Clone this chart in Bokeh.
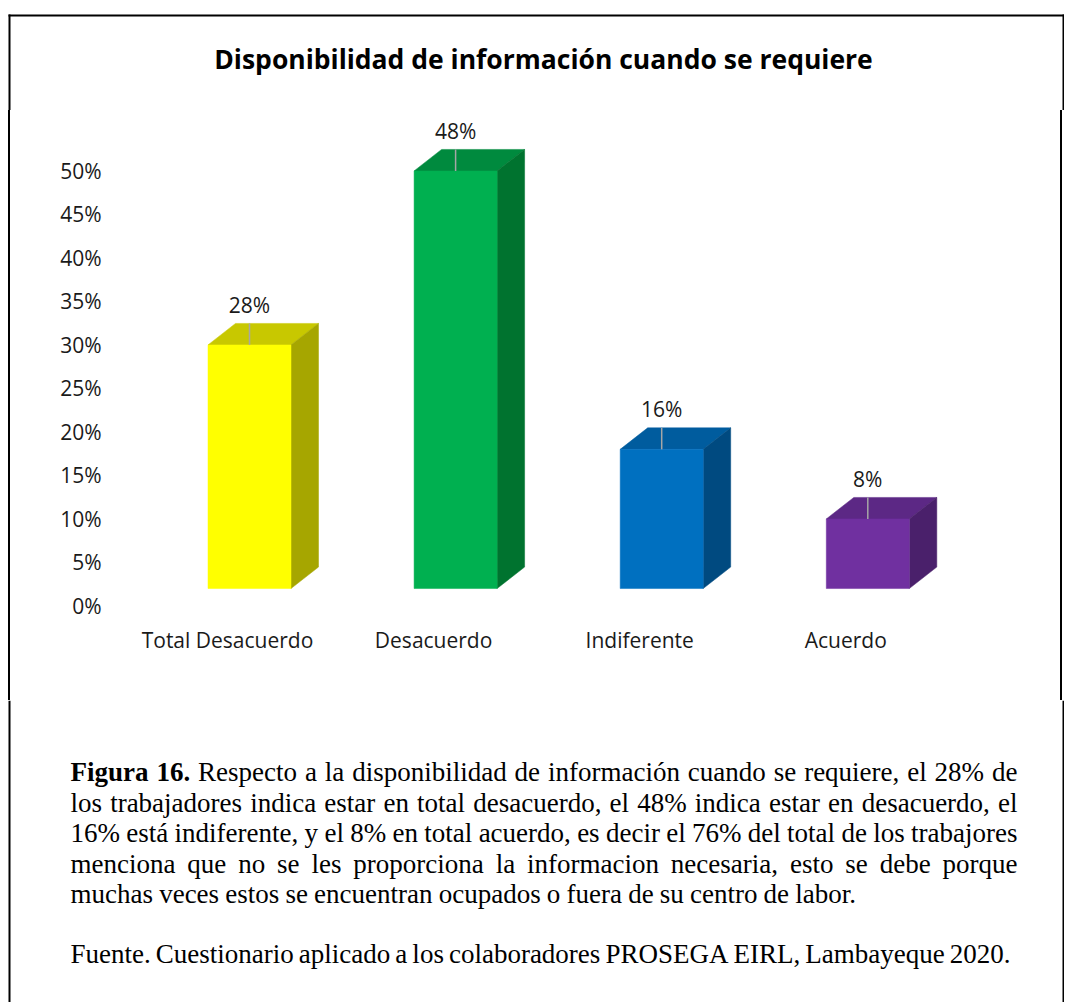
from bokeh.plotting import figure
from bokeh.layouts import column, row
from bokeh.models import Range1d, FixedTicker, PrintfTickFormatter, Spacer, Div
from bokeh.core.properties import value
from bokeh.embed import file_html
from bokeh.resources import INLINE

# ---------------- data ----------------
title_text = "Disponibilidad de información cuando se requiere"
categories = ["Total Desacuerdo", "Desacuerdo", "Indiferente", "Acuerdo"]
values = [28, 48, 16, 8]
value_labels = ["28%", "48%", "16%", "8%"]
y_ticks = [0, 5, 10, 15, 20, 25, 30, 35, 40, 45, 50]

front_colors = ["#FFFF00", "#00B050", "#0070C0", "#7030A0"]
top_colors = ["#C8C800", "#008A3E", "#005C9E", "#5C2885"]
side_colors = ["#A6A600", "#00732F", "#004A80", "#4A206B"]

caption_lines = [
    "Figura 16. Respecto a la disponibilidad de información cuando se requiere, el 28% de",
    "los trabajadores indica estar en total desacuerdo, el 48% indica estar en desacuerdo, el",
    "16% está indiferente, y el 8% en total acuerdo, es decir el 76% del total de los trabajores",
    "menciona que no se les proporciona la informacion necesaria, esto se debe porque",
    "muchas veces estos se encuentran ocupados o fuera de su centro de labor.",
]
source_line = "Fuente. Cuestionario aplicado a los colaboradores PROSEGA EIRL, Lambayeque 2020."

# ---------------- layout constants (page pixels) ----------------
TOTAL_W = 1064
HEAD_H = 110            # header (title) height
MID_H = 590             # chart block height
CAP_H = 302             # caption block height
LINE_W = 2
BORDER_TOP = (14, 16)
BORDER_LEFT = (8, 8 + LINE_W)
BORDER_RIGHT = (TOTAL_W - LINE_W, TOTAL_W)
CHART_X0 = BORDER_LEFT[1]
CHART_W = BORDER_RIGHT[0] - CHART_X0
FRAME_L, FRAME_R, FRAME_T, FRAME_B = 115, 1010, 110, 620   # page coords of chart frame

cat_px = 206.1          # pixels per category
pct_px = 8.7            # pixels per percent
first_cat_px = 227.0    # page x of first category centre
zero_px = 605.0         # page y of 0%

common = dict(output_backend="svg", toolbar_location=None)


def blank_fig(w, h, x0, x1, y0, y1, fill="white"):
    f = figure(width=w, height=h, x_range=Range1d(x0, x1), y_range=Range1d(y0, y1),
               x_axis_type=None, y_axis_type=None, min_border=0, **common)
    f.outline_line_color = None
    f.background_fill_color = fill
    f.border_fill_color = fill
    f.grid.visible = False
    return f


# ---------------- header: title + top border ----------------
head = blank_fig(TOTAL_W, HEAD_H, 0, TOTAL_W, HEAD_H, 0)
head.quad(left=[BORDER_LEFT[0]], right=[BORDER_RIGHT[1]], top=[BORDER_TOP[0]],
          bottom=[BORDER_TOP[1]], fill_color="black", line_color=None)
head.quad(left=[BORDER_LEFT[0], BORDER_RIGHT[0]], right=[BORDER_LEFT[1], BORDER_RIGHT[1]],
          top=[BORDER_TOP[0]] * 2, bottom=[HEAD_H] * 2, fill_color="black", line_color=None)
head.text(x=[543], y=[58], text=[title_text], text_align="center", text_baseline="middle",
          text_font=value("Open Sans"), text_font_style="bold", text_font_size="26.5px",
          text_color="#000000")

# ---------------- right border piece for the chart block ----------------
right_line = Div(text="", width=LINE_W, height=MID_H,
                 styles={"background-color": "black", "margin": "0", "padding": "0"})

# ---------------- chart ----------------
x_start = (FRAME_L - first_cat_px) / cat_px
x_end = (FRAME_R - first_cat_px) / cat_px
y_start = -(FRAME_B - zero_px) / pct_px
y_end = (zero_px - FRAME_T) / pct_px

p = figure(width=CHART_W, height=MID_H,
           x_range=Range1d(x_start, x_end), y_range=Range1d(y_start, y_end),
           min_border_left=FRAME_L - CHART_X0, min_border_right=CHART_X0 + CHART_W - FRAME_R,
           min_border_top=FRAME_T - HEAD_H, min_border_bottom=HEAD_H + MID_H - FRAME_B,
           styles={"border-left": f"{LINE_W}px solid black"},
           **common)
p.outline_line_color = None
p.background_fill_color = "white"
p.border_fill_color = "white"
p.xgrid.visible = False
p.ygrid.visible = False

label_font = "Open Sans"
text_col = "#1a1a1a"

p.yaxis.ticker = FixedTicker(ticks=y_ticks)
p.yaxis.formatter = PrintfTickFormatter(format="%d%%")
p.yaxis.axis_line_color = None
p.yaxis.major_tick_line_color = None
p.yaxis.minor_tick_line_color = None
p.yaxis.major_tick_out = 0
p.yaxis.major_label_standoff = 14
p.yaxis.major_label_text_font = label_font
p.yaxis.major_label_text_font_size = "21px"
p.yaxis.major_label_text_color = text_col

p.xaxis.ticker = FixedTicker(ticks=list(range(len(categories))))
p.xaxis.major_label_overrides = {i: c for i, c in enumerate(categories)}
p.xaxis.axis_line_color = None
p.xaxis.major_tick_line_color = None
p.xaxis.minor_tick_line_color = None
p.xaxis.major_tick_out = 0
p.xaxis.major_label_standoff = 5
p.xaxis.major_label_text_font = label_font
p.xaxis.major_label_text_font_size = "21px"
p.xaxis.major_label_text_color = text_col

front_off = 22 / cat_px
half_w = 41.5 / cat_px
dx = 27.5 / cat_px
dy = 21.5 / pct_px
floor = 1.95

xc = [i + front_off for i in range(len(categories))]
fl = [x - half_w for x in xc]
fr = [x + half_w for x in xc]
fb = [floor] * len(values)
ft = [floor + v for v in values]

top_xs = [[l, l + dx, r + dx, r] for l, r in zip(fl, fr)]
top_ys = [[t, t + dy, t + dy, t] for t in ft]
side_xs = [[r, r, r + dx, r + dx] for r in fr]
side_ys = [[b, t, t + dy, b + dy] for b, t in zip(fb, ft)]

p.patches(top_xs, top_ys, fill_color=top_colors, line_color=top_colors, line_width=0.5)
p.patches(side_xs, side_ys, fill_color=side_colors, line_color=side_colors, line_width=0.5)
p.quad(left=fl, right=fr, bottom=fb, top=ft, fill_color=front_colors, line_color=front_colors,
       line_width=0.5)

p.segment(x0=xc, y0=ft, x1=xc, y1=[t + dy for t in ft], line_color="#A6A6A6", line_width=1.5)
p.text(x=xc, y=[t + dy + 0.5 for t in ft], text=value_labels, text_align="center",
       text_baseline="bottom", text_font=value(label_font), text_font_size="21px",
       text_color=text_col)

# ---------------- caption ----------------
cap_top = HEAD_H + MID_H
cap = blank_fig(TOTAL_W, CAP_H, 0, TOTAL_W, cap_top + CAP_H, cap_top)
cap.quad(left=[BORDER_LEFT[0], BORDER_RIGHT[0]], right=[BORDER_LEFT[1], BORDER_RIGHT[1]],
         top=[cap_top] * 2, bottom=[cap_top + CAP_H] * 2, fill_color="black", line_color=None)

reg_w = {' ': 250, 'a': 444, 'b': 500, 'c': 444, 'd': 500, 'e': 444, 'f': 333, 'g': 500,
         'h': 500, 'i': 278, 'j': 278, 'k': 500, 'l': 278, 'm': 778, 'n': 500, 'o': 500,
         'p': 500, 'q': 500, 'r': 333, 's': 389, 't': 278, 'u': 500, 'v': 500, 'w': 722,
         'x': 500, 'y': 500, 'z': 444, 'á': 444, 'ó': 500, 'é': 444, 'í': 278, 'A': 722,
         'C': 667, 'E': 611, 'F': 556, 'G': 722, 'I': 333, 'L': 611, 'O': 722, 'P': 556,
         'R': 667, 'S': 556, '%': 833, ',': 250, '.': 250}
bold_w = {'F': 611, 'i': 278, 'g': 500, 'u': 556, 'r': 444, 'a': 500, '.': 250}

CAP_SIZE = 27
cap_left = 70
line_rights = [1017, 1017, 1017, 1017, 857, 1010]
line_bases = [771, 802, 832, 863, 893, 953]


def word_width(w, bold):
    table = bold_w if bold else reg_w
    return sum(table.get(ch, 500) for ch in w) * CAP_SIZE / 1000.0


reg_words = {"x": [], "y": [], "text": []}
bold_words = {"x": [], "y": [], "text": []}
for li, line in enumerate(caption_lines + [source_line]):
    words = line.split(" ")
    bold_flags = [(li == 0 and wi < 2) for wi in range(len(words))]
    widths = [word_width(w, b) for w, b in zip(words, bold_flags)]
    gap = (line_rights[li] - cap_left - sum(widths)) / max(len(words) - 1, 1)
    x = cap_left
    for w, b, wd in zip(words, bold_flags, widths):
        d = bold_words if b else reg_words
        d["x"].append(x)
        d["y"].append(line_bases[li])
        d["text"].append(w)
        x += wd + gap

cap.text(x=reg_words["x"], y=reg_words["y"], text=reg_words["text"], text_align="left",
         text_baseline="alphabetic", text_font=value("Liberation Serif"),
         text_font_size=f"{CAP_SIZE}px", text_color="#000000")
cap.text(x=bold_words["x"], y=bold_words["y"], text=bold_words["text"], text_align="left",
         text_baseline="alphabetic", text_font=value("Liberation Serif"),
         text_font_style="bold", text_font_size=f"{CAP_SIZE}px", text_color="#000000")

middle = row(Spacer(width=BORDER_LEFT[0], height=MID_H), p, right_line, spacing=0)
layout = column(head, middle, cap, spacing=0)
open("out.html", "w").write(file_html(layout, INLINE))
